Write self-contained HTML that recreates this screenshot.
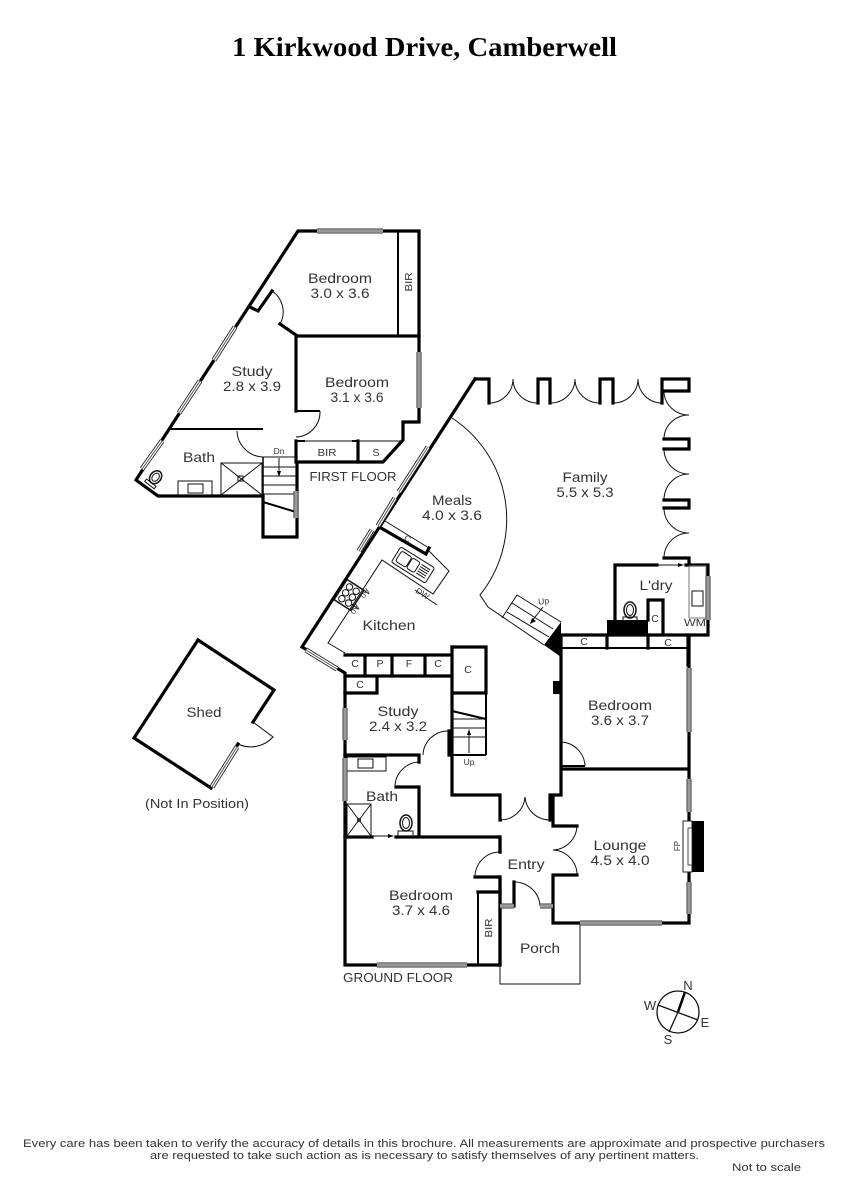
<!DOCTYPE html>
<html><head><meta charset="utf-8"><style>
html,body{margin:0;padding:0;background:#fff}
svg{display:block}
text{font-family:"Liberation Sans",sans-serif;fill:#333;text-anchor:middle;font-size:14px}
.s{font-size:10.5px}
.t{font-size:8.5px}
.k{fill:none;stroke:#000;stroke-width:3.2;stroke-linecap:square;stroke-linejoin:miter}
.m{fill:none;stroke:#000;stroke-width:2;stroke-linecap:butt}
.n{fill:none;stroke:#111;stroke-width:1}
</style></head><body>
<svg width="848" height="1200" viewBox="0 0 848 1200" xmlns="http://www.w3.org/2000/svg">
<rect width="848" height="1200" fill="#fff"/>
<text x="424.500" y="56" textLength="385" lengthAdjust="spacingAndGlyphs" style="font-family:'Liberation Serif',serif;font-weight:bold;font-size:27px;fill:#000">1 Kirkwood Drive, Camberwell</text>

<!-- FIRST FLOOR -->
<path class="k" d="M298,231H419V422H403V440L383,462H297V537H263V496H158L136,480Z"/>
<path class="k" d="M297,336H419M296,336V411M296,441V462M358,441V462"/>
<path class="k" d="M250,307L258,311L272,291M280,324L296,335"/>
<path class="m" d="M170,429H263M296,411H320M296,441H305M352,441H358"/>
<path class="m" d="M263,457V496" style="stroke-width:1.500"/>
<path class="n" d="M272,291A25,25 0 0 1 280,324M320,411A25,25 0 0 1 296,437M237,431A27,27 0 0 0 263,457"/>
<path class="n" d="M305,441H402"/>
<path class="m" d="M398,231V335"/>
<path class="n" d="M263,457H296M263,467H296M263,476H296M263,485H296M263,494H296"/>
<path class="m" d="M263,502L296,512"/>
<path class="n" d="M279,458V473"/><path d="M279,477L277,471H281Z" fill="#000"/>
<rect x="221" y="463" width="41" height="32" class="n"/>
<path class="n" d="M221,463L262,495M262,463L221,495"/>
<rect x="238" y="476" width="5" height="5" class="n"/>
<rect x="178" y="481" width="34" height="14" class="n"/>
<rect x="188" y="484" width="15" height="9" class="n"/>
<g transform="translate(155,478) rotate(38)">
<ellipse cx="0" cy="-1" rx="5.500" ry="7" class="n" style="stroke-width:1.500"/>
<ellipse cx="0" cy="-1" rx="3.200" ry="4.500" class="n"/>
<rect x="-6" y="6" width="12" height="3" class="n"/>
</g>

<!-- GROUND: outer walls -->
<path class="k" d="M475,379L302,647L345,673V965H500V877H475"/>
<path class="k" d="M475,379H489V403M538,403V379H550V403M600,403V379H613V403M662,403V379H689V391H664M664,439H689V449H664M664,500H689V508H664M664,558H689V565"/>
<path class="n" d="M489,403A24,24 0 0 0 513,379A25,24 0 0 0 538,403M550,403A25,24 0 0 0 575,379A25,24 0 0 0 600,403M613,403A25,24 0 0 0 638,379A24,24 0 0 0 662,403"/>
<path class="n" d="M664,391A25,24 0 0 0 689,415A25,24 0 0 0 664,439M664,449A25,25 0 0 0 689,474A25,26 0 0 0 664,500M664,508A25,25 0 0 0 689,533A25,25 0 0 0 664,558"/>
<path class="k" d="M500,837V852M500,837H396M345,837H372M345,755H419V762M419,787V837M419,787H396M449,731V755M452,647V795H500V820M550,820V795H561V769H689M561,769V742M561,635V742M553,795V826H577M577,875H553V923H580M662,923H689V635M561,635H708V565H686M657,565H615V620"/>
<path class="m" d="M500,820H502M552,820H550M561,766H585"/>
<path class="n" d="M449,731A25,25 0 0 0 423,755M395,787A25,25 0 0 1 419,762M561,742A25,25 0 0 1 585,766M500,820A25,25 0 0 0 525,797A25,25 0 0 0 550,820"/>
<path class="n" d="M577,826A25,25 0 0 1 553,850A25,25 0 0 1 577,875"/>
<path class="n" d="M500,852A25,25 0 0 0 475,877"/>
<path class="k" d="M514,906V882"/>
<path class="n" d="M514,882A26,25 0 0 1 540,906"/>
<path class="n" d="M500,965V984H580V923"/>
<path class="k" d="M500,852V837M500,877V965"/>
<path class="k" d="M478,892H500"/>
<path class="m" d="M478,892V965"/>

<!-- Kitchen and closets -->
<path class="k" d="M381,528L426,554L429,548"/>
<path class="n" d="M385,521L429,548M428,550L449,571L433,594L382,560L328,643L345,653"/>
<g transform="translate(413,565) rotate(32)">
<rect x="-20" y="-9" width="40" height="18" rx="2" class="n"/>
<rect x="-17" y="-6" width="12" height="12" rx="2" class="n"/>
<rect x="-4" y="-6" width="9" height="12" rx="2" class="n"/>
<path class="n" d="M7,-5H17M7,-2.500H17M7,0H17M7,2.500H17M7,5H17"/>
</g>
<g transform="translate(349,595) rotate(33)">
<rect x="-10" y="-12" width="20" height="24" class="n" style="stroke-width:1.500"/>
<circle cx="-4" cy="-7" r="3.200" class="n"/><circle cx="4" cy="-7" r="3.200" class="n"/>
<circle cx="-4" cy="0" r="3.200" class="n"/><circle cx="4" cy="0" r="3.200" class="n"/>
<circle cx="-4" cy="7" r="3.200" class="n"/><circle cx="4" cy="7" r="3.200" class="n"/>
</g>
<path class="n" d="M362,589L369,594M352,604L358,609M415,590L437,605"/>
<path class="k" d="M345,655H451M365,655V676M392,655V676M425,655V676M345,676H452M377,676V693H345M452,693H486M486,647V693M452,647H486"/>
<path class="n" d="M452,719H486M452,728H486M452,737H486"/>
<path class="m" d="M452,711L486,719"/>
<path class="m" d="M452,755H486M486,693V755"/>
<path class="n" d="M469,753V733"/><path d="M469,729L467,735H471Z" fill="#000"/>

<!-- Bath ground -->
<rect x="347" y="757" width="39" height="14" class="n"/>
<rect x="358" y="759" width="15" height="9" class="n"/>
<rect x="347" y="804" width="24" height="32" class="n"/>
<path class="n" d="M347,804L371,836M371,804L347,836"/>
<rect x="357" y="818" width="4" height="4" fill="#333"/>
<ellipse cx="406" cy="823" rx="6" ry="8" class="n" style="stroke-width:1.500"/>
<ellipse cx="406" cy="823" rx="3.500" ry="5.500" class="n"/>
<rect x="398" y="831" width="15" height="5" class="n"/>
<path class="n" d="M372,836H390"/><path d="M394,836L388,834V838Z" fill="#000"/>

<!-- Meals arc and stairs -->
<path class="n" d="M452,418A121,121 0 0 1 480,595L488,607L544,645"/>
<path class="n" d="M502,618L517,595L561,622M512,603L553,629M507,612L549,637"/>
<path class="n" d="M543,607L532,621"/><path d="M530,624L532,618L536,621Z" fill="#000"/>
<path d="M544,645L561,622V657Z" fill="#000"/>
<rect x="553" y="681" width="8" height="13" fill="#000"/>

<!-- Laundry -->
<rect x="607" y="620" width="41" height="15" fill="#000"/>
<path class="k" d="M648,620V600H663V634"/>
<path class="m" d="M562,648H688"/>
<path class="k" d="M607,635V648M648,635V648M688,635V665"/>
<rect x="689" y="566" width="17" height="52" fill="none" stroke="#777" stroke-width="1"/>
<rect x="692" y="591" width="11" height="15" class="n"/>
<path class="n" d="M657,565H680"/><path d="M684,565L678,563V567Z" fill="#000"/>
<ellipse cx="630" cy="610" rx="6" ry="8" class="n" style="stroke-width:1.500"/>
<ellipse cx="630" cy="610" rx="3.500" ry="5.500" class="n"/>
<rect x="623" y="617" width="14" height="3.500" class="n"/>

<!-- Fireplace -->
<rect x="692" y="821" width="12" height="51" fill="#000"/>
<rect x="683" y="821" width="9" height="51" fill="#fff" stroke="#222" stroke-width="1"/>
<rect x="688" y="828" width="4" height="37" fill="#fff" stroke="#222" stroke-width=".8"/>

<!-- Shed -->
<path class="k" d="M198,640L274,690L253,722"/>
<path class="k" d="M238,744L211,788L134,738L198,640"/>
<path class="n" d="M253,722L273,737A30,30 0 0 1 238,744"/>

<!-- Diagonal windows -->
<path stroke="#222" stroke-width="5.200" fill="none" d="M235,327L214,360M200,381L179,413M162,441L142,469M428,447L399,492M395,498L378,526M372,530L359,551M306,650L337,669M237,747L212,787"/>
<path stroke="#fff" stroke-width="3.400" fill="none" d="M235,327L214,360M200,381L179,413M162,441L142,469M428,447L399,492M395,498L378,526M372,530L359,551M306,650L337,669M237,747L212,787"/>
<path stroke="#555" stroke-width="1" fill="none" d="M235,327L214,360M200,381L179,413M162,441L142,469M428,447L399,492M395,498L378,526M372,530L359,551M306,650L337,669M237,747L212,787"/>
<!-- Straight windows -->
<path stroke="#333" stroke-width="5" fill="none" d="M377,965H467M580,923H662M689,668V732M689,779V812M689,882V914M345,708V740M345,758V801M708,576V620M500,906H514M540,906H553M296,491V518M419,352V408M317,231H383"/>
<path stroke="#999" stroke-width="3.400" fill="none" d="M377,965H467M580,923H662M689,668V732M689,779V812M689,882V914M345,708V740M345,758V801M708,576V620M500,906H514M540,906H553M296,491V518M419,352V408M317,231H383"/>

<!-- Compass -->
<circle cx="678" cy="1012" r="21" fill="none" stroke="#111" stroke-width="1.300"/>
<path class="n" d="M669,1032L678,1012M658,1005L698,1020" style="stroke-width:1.300"/>
<path d="M678,1012L685,992" stroke="#000" stroke-width="2.500" fill="none"/>

<!-- Labels -->
<text x="340" y="283" textLength="64" lengthAdjust="spacingAndGlyphs">Bedroom</text>
<text x="340" y="298" textLength="59" lengthAdjust="spacingAndGlyphs">3.0 x 3.6</text>
<text x="252" y="376" textLength="41" lengthAdjust="spacingAndGlyphs">Study</text>
<text x="252" y="391" textLength="58" lengthAdjust="spacingAndGlyphs">2.8 x 3.9</text>
<text x="357" y="387" textLength="64" lengthAdjust="spacingAndGlyphs">Bedroom</text>
<text x="357" y="402" textLength="53" lengthAdjust="spacingAndGlyphs">3.1 x 3.6</text>
<text x="199" y="462" textLength="32" lengthAdjust="spacingAndGlyphs">Bath</text>
<text x="353" y="481" textLength="87" lengthAdjust="spacingAndGlyphs" style="font-size:13px">FIRST FLOOR</text>
<text x="327" y="456" class="s" textLength="19" lengthAdjust="spacingAndGlyphs">BIR</text>
<text x="376" y="456" class="s">S</text>
<text transform="translate(412,282) rotate(-90)" class="s" textLength="19" lengthAdjust="spacingAndGlyphs">BIR</text>
<text x="279" y="454" class="t">Dn</text>
<text x="452" y="505" textLength="40" lengthAdjust="spacingAndGlyphs">Meals</text>
<text x="452" y="520" textLength="60" lengthAdjust="spacingAndGlyphs">4.0 x 3.6</text>
<text x="585" y="482" textLength="45" lengthAdjust="spacingAndGlyphs">Family</text>
<text x="585" y="497" textLength="57" lengthAdjust="spacingAndGlyphs">5.5 x 5.3</text>
<text x="656" y="590" textLength="33" lengthAdjust="spacingAndGlyphs">L'dry</text>
<text x="389" y="630" textLength="53" lengthAdjust="spacingAndGlyphs">Kitchen</text>
<text x="398" y="716" textLength="41" lengthAdjust="spacingAndGlyphs">Study</text>
<text x="398" y="731" textLength="58" lengthAdjust="spacingAndGlyphs">2.4 x 3.2</text>
<text x="620" y="710" textLength="64" lengthAdjust="spacingAndGlyphs">Bedroom</text>
<text x="620" y="725" textLength="58" lengthAdjust="spacingAndGlyphs">3.6 x 3.7</text>
<text x="620" y="850" textLength="53" lengthAdjust="spacingAndGlyphs">Lounge</text>
<text x="620" y="865" textLength="59" lengthAdjust="spacingAndGlyphs">4.5 x 4.0</text>
<text x="382" y="801" textLength="32" lengthAdjust="spacingAndGlyphs">Bath</text>
<text x="526" y="869" textLength="37" lengthAdjust="spacingAndGlyphs">Entry</text>
<text x="421" y="900" textLength="64" lengthAdjust="spacingAndGlyphs">Bedroom</text>
<text x="421" y="915" textLength="58" lengthAdjust="spacingAndGlyphs">3.7 x 4.6</text>
<text x="540" y="953" textLength="40" lengthAdjust="spacingAndGlyphs">Porch</text>
<text x="398" y="982" textLength="110" lengthAdjust="spacingAndGlyphs" style="font-size:13px">GROUND FLOOR</text>
<text x="204" y="717" textLength="35" lengthAdjust="spacingAndGlyphs">Shed</text>
<text x="197" y="808" textLength="104" lengthAdjust="spacingAndGlyphs" style="font-size:12.5px">(Not In Position)</text>
<text x="355" y="667" class="s">C</text>
<text x="380" y="667" class="s">P</text>
<text x="409" y="667" class="s">F</text>
<text x="438" y="667" class="s">C</text>
<text x="360" y="688" class="s">C</text>
<text x="468" y="673" class="s">C</text>
<text x="584" y="645" class="s">C</text>
<text x="668" y="646" class="s">C</text>
<text x="655" y="622" class="s">C</text>
<text x="695" y="626" class="s" textLength="22" lengthAdjust="spacingAndGlyphs">WM</text>
<text x="469" y="765" class="t">Up</text>
<text transform="translate(406,541) rotate(32)" class="t">C</text>
<text transform="translate(544,604) rotate(-8)" class="t">Up</text>
<text transform="translate(421,596) rotate(32)" class="t">DW</text>
<text transform="translate(363,592) rotate(122)" class="t">Ao</text>
<text transform="translate(353,608) rotate(122)" class="t">Ao</text>
<text transform="translate(492,928) rotate(-90)" class="s" textLength="19" lengthAdjust="spacingAndGlyphs">BIR</text>
<text transform="translate(680,846) rotate(-90)" style="font-size:8px">FP</text>
<text x="688" y="990" style="font-size:13px">N</text>
<text x="650" y="1010" style="font-size:13px">W</text>
<text x="705" y="1027" style="font-size:13px">E</text>
<text x="668" y="1044" style="font-size:13px">S</text>

<text x="424" y="1147" textLength="802" lengthAdjust="spacingAndGlyphs" style="font-size:11px">Every care has been taken to verify the accuracy of details in this brochure.  All measurements are approximate and prospective purchasers</text>
<text x="424.500" y="1159" textLength="549" lengthAdjust="spacingAndGlyphs" style="font-size:11px">are requested to take such action as is necessary to satisfy themselves of any pertinent matters.</text>
<text x="766.500" y="1171" textLength="69" lengthAdjust="spacingAndGlyphs" style="font-size:11px">Not to scale</text>
</svg>
</body></html>
